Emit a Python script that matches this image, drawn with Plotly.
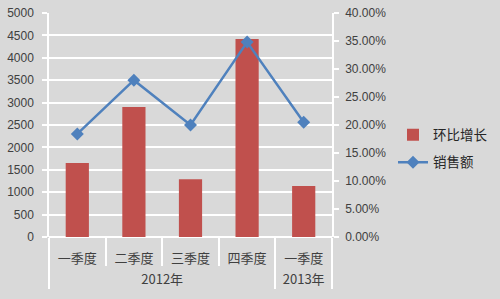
import plotly.graph_objects as go

years = ["2012年", "2012年", "2012年", "2012年", "2013年"]
quarters = ["一季度", "二季度", "三季度", "四季度", "一季度"]
bar_values = [1650, 2900, 1290, 4420, 1140]
line_values = [0.184, 0.280, 0.200, 0.348, 0.205]
bar_name = "环比增长"
line_name = "销售额"

BG = "#D9D9D9"
TXT = "#404040"
NUMFONT = "Liberation Sans, Noto Sans CJK SC"
CJK = "Noto Sans CJK SC"

n = len(quarters)
boundaries = [i - 0.5 for i in range(n + 1)]

fig = go.Figure()
fig.add_trace(go.Bar(
    x=[years, quarters], y=bar_values, name=bar_name,
    marker=dict(color="#C0504D", line=dict(width=0)),
    legendgroup="a",
))
fig.add_trace(go.Scatter(
    x=[years, quarters], y=line_values, name=line_name, yaxis="y2",
    mode="lines+markers",
    line=dict(color="#4F81BD", width=2.5),
    marker=dict(symbol="diamond", size=10, color="#4F81BD"),
    legendgroup="b",
))
# invisible helper trace so the separator-tick axis is drawn
fig.add_trace(go.Scatter(
    x=boundaries, y=[0] * len(boundaries), xaxis="x2", yaxis="y",
    mode="markers", marker=dict(opacity=0), showlegend=False,
    hoverinfo="skip",
))

ydom = [12 / 236, 1]

fig.update_layout(
    width=500, height=299,
    margin=dict(l=49, r=168, t=13, b=50, autoexpand=False),
    paper_bgcolor=BG, plot_bgcolor=BG,
    bargap=0.59,
    showlegend=True,
    legend=dict(xref="container", yref="container",
                x=0.786, y=0.502, xanchor="left", yanchor="middle",
                bgcolor="rgba(0,0,0,0)", tracegroupgap=7,
                font=dict(family=CJK, size=13.5, color="#262626")),
    xaxis=dict(
        type="multicategory", automargin=False,
        anchor="free", position=0,
        tickfont=dict(family=CJK, size=13, color=TXT),
        ticks="",
        showdividers=True, dividercolor="white", dividerwidth=1.5,
        showgrid=False, showline=False, zeroline=False,
    ),
    xaxis2=dict(
        overlaying="x", anchor="y", side="bottom", automargin=False,
        type="linear", range=[-0.5, n - 0.5],
        tickmode="array", tickvals=boundaries, showticklabels=False,
        ticks="outside", ticklen=28, tickcolor="white", tickwidth=1.5,
        showgrid=False, showline=False, zeroline=False,
    ),
    yaxis=dict(
        domain=ydom, automargin=False,
        range=[0, 5000], dtick=500,
        tickfont=dict(family=NUMFONT, size=12, color=TXT),
        gridcolor="white", gridwidth=1.5,
        showline=True, linecolor="white", linewidth=1.5,
        ticks="outside", ticklen=5, tickcolor="white", tickwidth=1.5,
        ticklabelstandoff=6,
        zeroline=True, zerolinecolor="white", zerolinewidth=1.5,
    ),
    yaxis2=dict(
        domain=ydom, automargin=False,
        overlaying="y", side="right",
        range=[0, 0.4], dtick=0.05, tickformat=".2%",
        tickfont=dict(family=NUMFONT, size=12, color=TXT),
        showgrid=False,
        showline=True, linecolor="white", linewidth=1.5,
        ticks="outside", ticklen=5, tickcolor="white", tickwidth=1.5,
        ticklabelstandoff=4,
        zeroline=False,
    ),
)

fig.write_html("out.html")
